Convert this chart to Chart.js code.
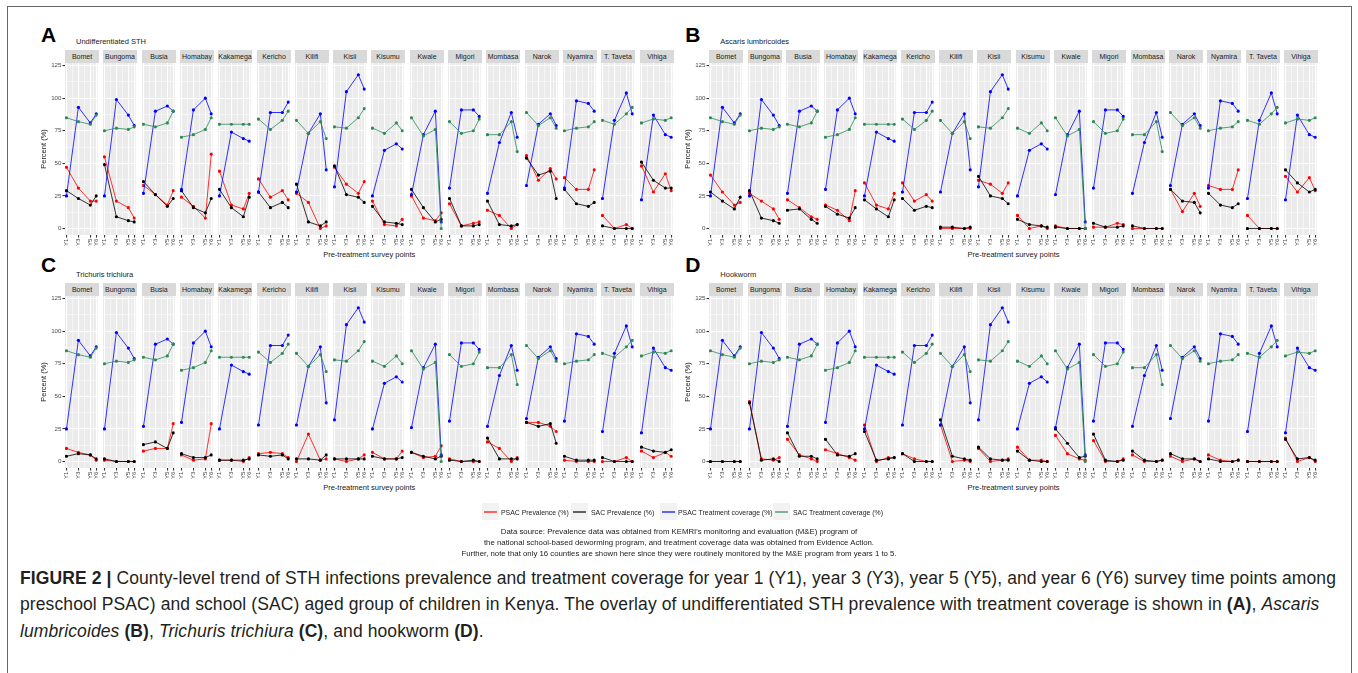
<!DOCTYPE html>
<html>
<head>
<meta charset="utf-8">
<script src="https://cdn.jsdelivr.net/npm/chart.js@4.4.1/dist/chart.umd.min.js"></script>
<style>
    body { margin: 0; background: #fff; font-family: "Liberation Sans", Arial, sans-serif; }
    #fig { position: relative; width: 1358px; height: 673px; overflow: hidden; }
    #fig canvas { position: absolute; }
    .txt { position: absolute; white-space: nowrap; color: #1A1A1A; }
    .strip { position: absolute; background: #D9D9D9; color: #1A1A1A; font-size: 7px; text-align: center; overflow: hidden; }
    .key { position: absolute; width: 17px; height: 17px; background: #F2F2F2; }
    .key i { position: absolute; left: 2px; right: 2px; top: 8px; height: 1.5px; }
</style>
</head>
<body>
<div id="fig"></div>
<script>
// counties (facets), survey points
const counties = ['Bomet', 'Bungoma', 'Busia', 'Homabay', 'Kakamega', 'Kericho', 'Kilifi', 'Kisii',
    'Kisumu', 'Kwale', 'Migori', 'Mombasa', 'Narok', 'Nyamira', 'T. Taveta', 'Vihiga'];
const years = [1, 3, 5, 6];
const yearLabels = ['Y1', 'Y3', 'Y5', 'Y6'];
const yTicks = [0, 25, 50, 75, 100, 125];

// treatment coverage is the same in every panel
const psacCoverage = [[25, 93, 81, 88], [25, 99, 87, 79], [27, 90, 94, 90], [30, 91, 100, 88],
    [25, 74, 69, 67], [28, 89, 89, 97], [28, 73, 88, 45], [32, 105, 118, 107],
    [25, 60, 65, 61], [26, 72, 90, 5], [31, 91, 91, 86], [27, 66, 89, 70],
    [33, 80, 88, 79], [31, 98, 96, 90], [23, 83, 104, 88], [22, 87, 72, 70]];
const sacCoverage = [[85, 82, 80, 87], [75, 77, 76, 78], [80, 78, 81, 90], [70, 72, 76, 85],
    [80, 80, 80, 80], [84, 76, 83, 90], [83, 73, 82, 69], [78, 77, 85, 92],
    [77, 73, 81, 75], [85, 71, 76, 0], [82, 73, 75, 84], [72, 72, 82, 59],
    [89, 79, 85, 77], [75, 77, 78, 82], [83, 80, 88, 93], [81, 84, 83, 85]];

// A - undifferentiated STH
const sthPsac = [[47, 31, 21, 21], [55, 21, 16, 8], [33, 26, 18, 29], [24, 17, 8, 57],
    [44, 18, 15, 27], [38, 24, 29, 22], [27, 20, 0, 2], [47, 34, 27, 36],
    [21, 3, 2, 7], [25, 8, 6, 12], [19, 2, 4, 5], [14, 10, 0, 3],
    [56, 37, 46, 38], [39, 30, 30, 45], [10, 0, 3, 0], [48, 28, 42, 29]];
const sthSac = [[29, 23, 18, 25], [49, 9, 6, 5], [36, 26, 17, 23], [29, 16, 12, 23],
    [30, 16, 9, 24], [28, 16, 20, 16], [34, 5, 2, 5], [48, 26, 24, 20],
    [17, 5, 4, 3], [30, 16, 5, 7], [23, 2, 2, 3], [21, 3, 2, 3],
    [54, 41, 44, 23], [30, 19, 17, 20], [2, 0, 0, 0], [51, 37, 31, 31]];

// B - Ascaris lumbricoides
const ascarisPsac = [[41, 28, 18, 20], [27, 21, 15, 7], [22, 16, 9, 7], [18, 14, 6, 29],
    [35, 18, 15, 27], [35, 21, 26, 21], [0, 0, 0, 0], [37, 34, 27, 35],
    [10, 0, 2, 0], [2, 0, 0, 0], [1, 1, 4, 3], [0, 0, 0, 0],
    [30, 13, 27, 17], [33, 30, 30, 45], [10, 0, 0, 0], [40, 28, 39, 29]];
const ascarisSac = [[28, 21, 15, 24], [29, 8, 6, 4], [14, 15, 7, 4], [17, 11, 8, 16],
    [22, 15, 9, 22], [23, 14, 17, 16], [1, 1, 0, 1], [40, 25, 23, 19],
    [7, 3, 2, 1], [1, 0, 0, 0], [4, 1, 1, 2], [2, 0, 0, 0],
    [30, 21, 20, 12], [27, 18, 16, 19], [0, 0, 0, 0], [45, 35, 28, 30]];

// C - Trichuris trichiura
const trichurisPsac = [[10, 7, 5, 1], [1, 0, 0, 0], [8, 10, 10, 29], [5, 1, 2, 29],
    [1, 1, 0, 3], [6, 7, 6, 3], [0, 21, 1, 2], [2, 0, 2, 5],
    [7, 2, 2, 8], [7, 3, 4, 12], [2, 0, 0, 0], [15, 10, 0, 3],
    [30, 30, 27, 23], [1, 0, 0, 0], [0, 0, 3, 0], [8, 3, 7, 4]];
const trichurisSac = [[4, 6, 5, 2], [2, 0, 0, 0], [13, 15, 10, 22], [6, 3, 3, 5],
    [1, 1, 1, 2], [5, 4, 5, 2], [2, 2, 1, 5], [2, 2, 2, 2],
    [4, 2, 2, 3], [7, 4, 2, 4], [1, 0, 1, 0], [18, 2, 2, 2],
    [30, 27, 29, 14], [4, 1, 1, 1], [3, 0, 0, 0], [11, 8, 7, 9]];

// D - hookworm
const hookwormPsac = [[0, 0, 0, 0], [46, 2, 1, 3], [17, 5, 2, 0], [9, 6, 3, 1],
    [28, 0, 3, 3], [6, 2, 0, 0], [28, 0, 1, 0], [10, 0, 1, 2],
    [11, 1, 1, 0], [20, 6, 2, 1], [16, 0, 0, 2], [5, 0, 0, 1],
    [4, 0, 2, 0], [5, 1, 0, 1], [0, 0, 0, 0], [18, 0, 3, 0]];
const hookwormSac = [[0, 0, 0, 0], [45, 1, 2, 0], [22, 4, 4, 2], [17, 5, 4, 6],
    [23, 1, 2, 3], [6, 0, 0, 0], [32, 4, 2, 1], [11, 2, 1, 1],
    [8, 1, 0, 0], [25, 14, 3, 4], [21, 1, 0, 1], [8, 1, 0, 1],
    [6, 2, 2, 0], [2, 0, 0, 1], [0, 0, 0, 0], [17, 2, 3, 1]];

const seriesNames = ['PSAC Prevalence (%)', 'SAC Prevalence (%)', 'PSAC Treatment coverage (%)', 'SAC Treatment coverage (%)'];
const seriesColors = ['#FF0000', '#000000', '#0000FF', '#2E8B57'];

const panels = [
    { letter: 'A', title: 'Undifferentiated STH', psac: sthPsac, sac: sthSac, left: 65, top: 63 },
    { letter: 'B', title: 'Ascaris lumbricoides', psac: ascarisPsac, sac: ascarisSac, left: 709.3, top: 63 },
    { letter: 'C', title: 'Trichuris trichiura', psac: trichurisPsac, sac: trichurisSac, left: 65, top: 296.3 },
    { letter: 'D', title: 'Hookworm', psac: hookwormPsac, sac: hookwormSac, left: 709.3, top: 296.3 }
];

const FONT = '"Liberation Sans", Arial, sans-serif';
Chart.defaults.font.family = FONT;

const FACET_W = 34, FACET_STEP = 38.3, BG_H = 172, STRIP_H = 13.5;
const PAD = 6, X_AXIS_H = 17, Y_AXIS_W = 26;
const xGrid = [1, 2, 3, 4, 5, 5.5, 6];
const yGrid = [0, 12.5, 25, 37.5, 50, 62.5, 75, 87.5, 100, 112.5, 125];

const fig = document.getElementById('fig');

// grey panel background (ggplot theme_grey)
const panelBg = {
    id: 'panelBg',
    beforeDraw(chart) {
        const { ctx, chartArea: a } = chart;
        ctx.save();
        ctx.fillStyle = '#EBEBEB';
        ctx.fillRect(a.left, a.top, a.right - a.left, a.bottom - a.top);
        ctx.restore();
    }
};

function addText(html, x, y, css) {
    const d = document.createElement('div');
    d.className = 'txt';
    d.innerHTML = html;
    d.style.left = x + 'px';
    d.style.top = y + 'px';
    Object.assign(d.style, css || {});
    fig.appendChild(d);
    return d;
}

function makeSeries(i, values) {
    return {
        label: seriesNames[i],
        data: years.map((yr, k) => ({ x: yr, y: values[k] })),
        borderColor: seriesColors[i],
        backgroundColor: seriesColors[i],
        borderWidth: 0.8,
        pointRadius: 1.6,
        pointBorderWidth: 0,
        pointBackgroundColor: seriesColors[i],
        tension: 0,
        order: 3 - i
    };
}

function makeFacet(panel, idx) {
    const first = idx === 0;
    const bgLeft = panel.left + idx * FACET_STEP;
    const extra = first ? Y_AXIS_W : 0;

    const canvas = document.createElement('canvas');
    const w = Math.round(FACET_W + 2 * PAD + extra);
    const h = Math.round(BG_H + PAD + X_AXIS_H);
    canvas.width = w;
    canvas.height = h;
    canvas.style.width = w + 'px';
    canvas.style.height = h + 'px';
    canvas.style.left = Math.round(bgLeft - PAD - extra) + 'px';
    canvas.style.top = Math.round(panel.top - PAD) + 'px';
    fig.appendChild(canvas);

    // strip label
    const s = document.createElement('div');
    s.className = 'strip';
    s.textContent = counties[idx];
    s.style.left = Math.round(bgLeft) + 'px';
    s.style.top = (Math.round(panel.top) - STRIP_H) + 'px';
    s.style.width = FACET_W + 'px';
    s.style.height = STRIP_H + 'px';
    s.style.lineHeight = STRIP_H + 'px';
    fig.appendChild(s);

    new Chart(canvas, {
        type: 'line',
        data: {
            datasets: [
                makeSeries(0, panel.psac[idx]),
                makeSeries(1, panel.sac[idx]),
                makeSeries(2, psacCoverage[idx]),
                makeSeries(3, sacCoverage[idx])
            ]
        },
        options: {
            responsive: false,
            animation: false,
            events: [],
            layout: { padding: { top: PAD, left: PAD, right: PAD, bottom: 0 } },
            plugins: { legend: { display: false }, tooltip: { enabled: false } },
            scales: {
                x: {
                    type: 'linear',
                    min: 0.75,
                    max: 6.25,
                    afterBuildTicks: sc => { sc.ticks = xGrid.map(v => ({ value: v })); },
                    afterFit: sc => { sc.height = X_AXIS_H; },
                    border: { display: false },
                    grid: {
                        color: '#FFFFFF',
                        lineWidth: c => years.includes(c.tick.value) ? 1.1 : 0.5,
                        tickLength: 2.5,
                        tickColor: c => years.includes(c.tick.value) ? '#333333' : 'rgba(0,0,0,0)'
                    },
                    ticks: {
                        autoSkip: false,
                        minRotation: 90,
                        maxRotation: 90,
                        padding: 1,
                        color: '#4D4D4D',
                        font: { size: 6.2 },
                        callback: v => years.includes(v) ? yearLabels[years.indexOf(v)] : ''
                    }
                },
                y: {
                    min: -5,
                    max: 127,
                    afterBuildTicks: sc => { sc.ticks = yGrid.map(v => ({ value: v })); },
                    afterFit: sc => { sc.width = extra; },
                    border: { display: false },
                    grid: {
                        color: '#FFFFFF',
                        lineWidth: c => yTicks.includes(c.tick.value) ? 1.1 : 0.5,
                        drawTicks: first,
                        tickLength: 2.5,
                        tickColor: c => yTicks.includes(c.tick.value) ? '#333333' : 'rgba(0,0,0,0)'
                    },
                    ticks: {
                        display: first,
                        padding: 1,
                        color: '#4D4D4D',
                        font: { size: 6.2 },
                        callback: v => yTicks.includes(v) ? String(v) : ''
                    },
                    title: {
                        display: first,
                        text: 'Percent (%)',
                        color: '#1A1A1A',
                        padding: 0,
                        font: { size: 7.5 }
                    }
                }
            }
        },
        plugins: [panelBg]
    });
}

panels.forEach(p => {
    const dy = p.top - 63;
    addText(p.letter, p.left - 24, 24 + dy - (p.top > 100 ? 3 : 0), { fontSize: '21px', fontWeight: 'bold', lineHeight: '21px', color: '#000' });
    addText(p.title, p.left + 11, 37 + dy, { fontSize: '7.5px', lineHeight: '9px' });
    const lastRight = p.left + 15 * FACET_STEP + FACET_W;
    const xt = addText('Pre-treatment survey points', (p.left + lastRight) / 2, 250 + dy, { fontSize: '7.5px', lineHeight: '9px' });
    xt.style.transform = 'translateX(-50%)';
    counties.forEach((c, i) => makeFacet(p, i));
});

// legend
const keyLeft = [482, 571, 660, 773];
const textLeft = [501, 591, 678, 793];
seriesNames.forEach((name, i) => {
    const k = document.createElement('div');
    k.className = 'key';
    k.style.left = keyLeft[i] + 'px';
    k.style.top = '503px';
    k.innerHTML = '<i style="background:' + seriesColors[i] + ';opacity:0.6"></i>';
    fig.appendChild(k);
    addText(name, textLeft[i], 507.5, { fontSize: '6.9px', lineHeight: '9px' });
});

addText('Data source: Prevalence data was obtained from KEMRI\'s monitoring and evaluation (M&amp;E) program of<br>' +
    'the national school-based deworming program, and treatment coverage data was obtained from Evidence Action.<br>' +
    'Further, note that only 16 counties are shown here since they were routinely monitored by the M&amp;E program from years 1 to 5.',
    679, 527, { fontSize: '7.8px', lineHeight: '10.9px', textAlign: 'center', transform: 'translateX(-50%)' });

// figure caption
addText('<b>FIGURE 2 |</b> County-level trend of STH infections prevalence and treatment coverage for year 1 (Y1), year 3 (Y3), year 5 (Y5), and year 6 (Y6) survey time points among<br>' +
    'preschool PSAC) and school (SAC) aged group of children in Kenya. The overlay of undifferentiated STH prevalence with treatment coverage is shown in <b>(A)</b>, <i>Ascaris</i><br>' +
    '<i>lumbricoides</i> <b>(B)</b>, <i>Trichuris trichiura</i> <b>(C)</b>, and hookworm <b>(D)</b>.',
    20, 565, { fontSize: '17.5px', letterSpacing: '0.1px', lineHeight: '26.3px', color: '#231F20' });

// outer frame
const frame = document.createElement('div');
frame.style.cssText = 'position:absolute;left:7px;top:6px;width:1345px;height:700px;border:1.5px solid #666;box-sizing:border-box;';
fig.appendChild(frame);
</script>
</body>
</html>
